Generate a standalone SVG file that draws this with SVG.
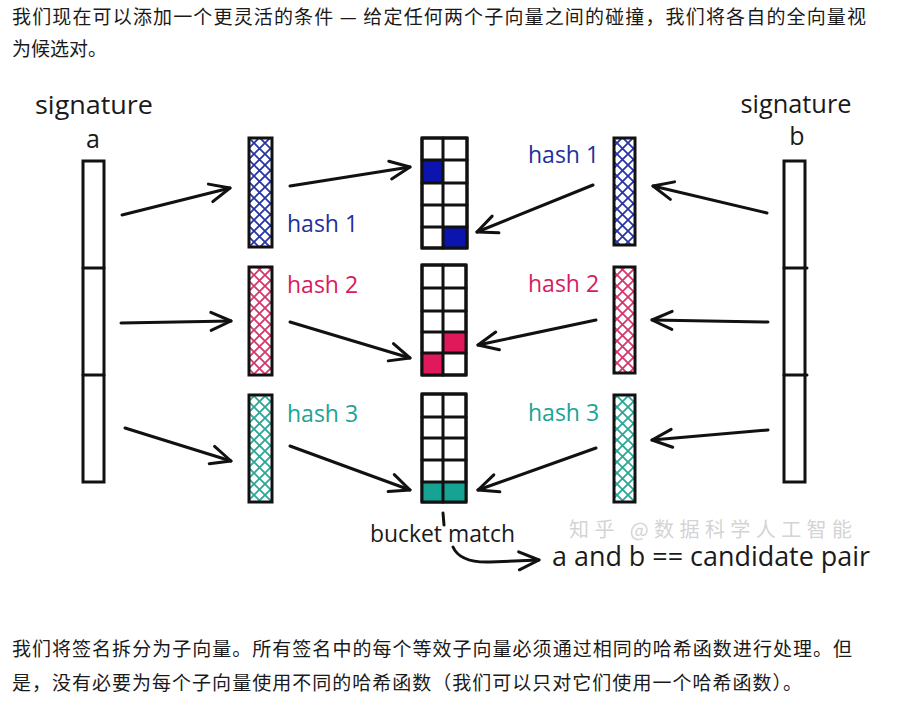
<svg xmlns="http://www.w3.org/2000/svg" width="913" height="706" viewBox="0 0 913 706">
<style>
.cn{font-family:"Noto Sans CJK SC","Noto Sans",sans-serif;font-size:19px;fill:#1a1a1a}
.hand{font-family:"Open Sans","DejaVu Sans",sans-serif;fill:#1a1a1a}
.sig{font-size:25px}
.lab{font-size:23px}
.blue{fill:#1e2f9c}
.pink{fill:#d81b5e}
.teal{fill:#1aa396}
.box{fill:none;stroke:#111;stroke-width:3}
.grid{fill:#fff;stroke:#111;stroke-width:3;stroke-linejoin:round}
.conn{fill:none;stroke:#111;stroke-width:3;stroke-linecap:round}
</style>
<defs>
<marker id="ah" markerUnits="userSpaceOnUse" markerWidth="26" markerHeight="26" viewBox="0 0 26 26" refX="23" refY="13" orient="auto">
<path d="M3,4 L23,13 L3,22" fill="none" stroke="#111" stroke-width="3" stroke-linecap="round" stroke-linejoin="round"/>
</marker>
<pattern id="hb" width="11" height="11" patternUnits="userSpaceOnUse" x="1" y="0"><path d="M-1,-1 L12,12 M12,-1 L-1,12" stroke="#2636a6" stroke-width="1.8"/></pattern>
<pattern id="hp" width="11" height="11" patternUnits="userSpaceOnUse" x="1" y="0"><path d="M-1,-1 L12,12 M12,-1 L-1,12" stroke="#d3386e" stroke-width="1.8"/></pattern>
<pattern id="ht" width="11" height="11" patternUnits="userSpaceOnUse" x="1" y="0"><path d="M-1,-1 L12,12 M12,-1 L-1,12" stroke="#2aa797" stroke-width="1.8"/></pattern>
</defs>
<rect width="913" height="706" fill="#fff"/>

<g id="intro">
<text class="cn" x="12" y="24" textLength="854" lengthAdjust="spacing">我们现在可以添加一个更灵活的条件 — 给定任何两个子向量之间的碰撞，我们将各自的全向量视</text>
<text class="cn" x="12" y="56">为候选对。</text>
</g>

<g id="signature-a">
<text class="hand sig" x="94" y="114" text-anchor="middle" textLength="118" lengthAdjust="spacingAndGlyphs">signature</text>
<text class="hand sig" x="93" y="148" text-anchor="middle">a</text>
<rect class="box" x="83" y="161" width="21" height="321"/>
<path class="conn" d="M83,268 H104 M83,375 H104"/>
</g>

<g id="signature-b">
<text class="hand sig" x="796" y="113" text-anchor="middle" textLength="111" lengthAdjust="spacingAndGlyphs">signature</text>
<text class="hand sig" x="797" y="145" text-anchor="middle">b</text>
<rect class="box" x="784" y="161" width="21" height="321"/>
<path class="conn" d="M784,268 H807 M784,375 H807"/>
</g>

<g id="hash-a-1"><rect x="249" y="138" width="23" height="109" class="box" style="fill:url(#hb)"/></g>
<g id="hash-a-2"><rect x="249" y="267" width="23" height="108" class="box" style="fill:url(#hp)"/></g>
<g id="hash-a-3"><rect x="249" y="395" width="23" height="107" class="box" style="fill:url(#ht)"/></g>
<g id="hash-b-1"><rect x="614" y="138" width="21" height="107" class="box" style="fill:url(#hb)"/></g>
<g id="hash-b-2"><rect x="614" y="267" width="21" height="106" class="box" style="fill:url(#hp)"/></g>
<g id="hash-b-3"><rect x="614" y="395" width="21" height="107" class="box" style="fill:url(#ht)"/></g>

<g id="labels">
<text class="hand lab blue" x="287" y="232">hash 1</text>
<text class="hand lab pink" x="287" y="293">hash 2</text>
<text class="hand lab teal" x="287" y="422">hash 3</text>
<text class="hand lab blue" x="528" y="163">hash 1</text>
<text class="hand lab pink" x="528" y="292">hash 2</text>
<text class="hand lab teal" x="528" y="421">hash 3</text>
</g>

<g id="bucket-1">
<rect class="grid" x="422" y="138" width="45" height="110"/>
<rect x="422" y="160" width="21" height="23" fill="#0b14ad"/>
<rect x="443" y="227" width="24" height="21" fill="#0b14ad"/>
<path class="conn" d="M443,138 V248 M422,160 H467 M422,183 H467 M422,205 H467 M422,227 H467"/>
<rect class="box" x="422" y="138" width="45" height="110"/>
</g>

<g id="bucket-2">
<rect class="grid" x="422" y="265" width="44" height="110"/>
<rect x="443" y="332" width="23" height="21" fill="#e0195a"/>
<rect x="422" y="353" width="21" height="22" fill="#e0195a"/>
<path class="conn" d="M443,265 V375 M422,288 H466 M422,311 H466 M422,332 H466 M422,353 H466"/>
<rect class="box" x="422" y="265" width="44" height="110"/>
</g>

<g id="bucket-3">
<rect class="grid" x="422" y="394" width="44" height="108"/>
<rect x="422" y="482" width="44" height="20" fill="#17a394"/>
<path class="conn" d="M443,394 V502 M422,417 H466 M422,438 H466 M422,460 H466 M422,482 H466"/>
<rect class="box" x="422" y="394" width="44" height="108"/>
</g>

<g id="connectors">
<path class="conn" d="M122,215 L230,188" marker-end="url(#ah)"/>
<path class="conn" d="M121,323 L231,321" marker-end="url(#ah)"/>
<path class="conn" d="M125,428 L231,461" marker-end="url(#ah)"/>
<path class="conn" d="M290,186 L410,167" marker-end="url(#ah)"/>
<path class="conn" d="M290,322 L410,358" marker-end="url(#ah)"/>
<path class="conn" d="M290,446 L410,490" marker-end="url(#ah)"/>
<path class="conn" d="M767,213 L653,186" marker-end="url(#ah)"/>
<path class="conn" d="M768,322 L652,320" marker-end="url(#ah)"/>
<path class="conn" d="M768,430 L652,440" marker-end="url(#ah)"/>
<path class="conn" d="M593,185 L477,232" marker-end="url(#ah)"/>
<path class="conn" d="M596,320 L478,345" marker-end="url(#ah)"/>
<path class="conn" d="M596,448 L478,490" marker-end="url(#ah)"/>
<path class="conn" d="M443,513 L444,525" stroke-width="2.5"/>
<path class="conn" d="M453,547 Q460,563 490,562 L539,560" marker-end="url(#ah)"/>
</g>

<g id="result">
<text class="hand" x="370" y="542" font-size="23" textLength="145" lengthAdjust="spacingAndGlyphs">bucket match</text>
<text x="569" y="537" font-family="Noto Sans CJK SC,sans-serif" font-size="20" fill="#c8c8c8" fill-opacity="0.8" textLength="283" lengthAdjust="spacing">知乎 @数据科学人工智能</text>
<text class="hand" x="552" y="566" font-size="27" textLength="318" lengthAdjust="spacingAndGlyphs">a and b == candidate pair</text>
</g>

<g id="outro">
<text class="cn" x="12" y="656" textLength="840" lengthAdjust="spacing">我们将签名拆分为子向量。所有签名中的每个等效子向量必须通过相同的哈希函数进行处理。但</text>
<text class="cn" x="12" y="690" textLength="790" lengthAdjust="spacing">是，没有必要为每个子向量使用不同的哈希函数（我们可以只对它们使用一个哈希函数）。</text>
</g>
</svg>
